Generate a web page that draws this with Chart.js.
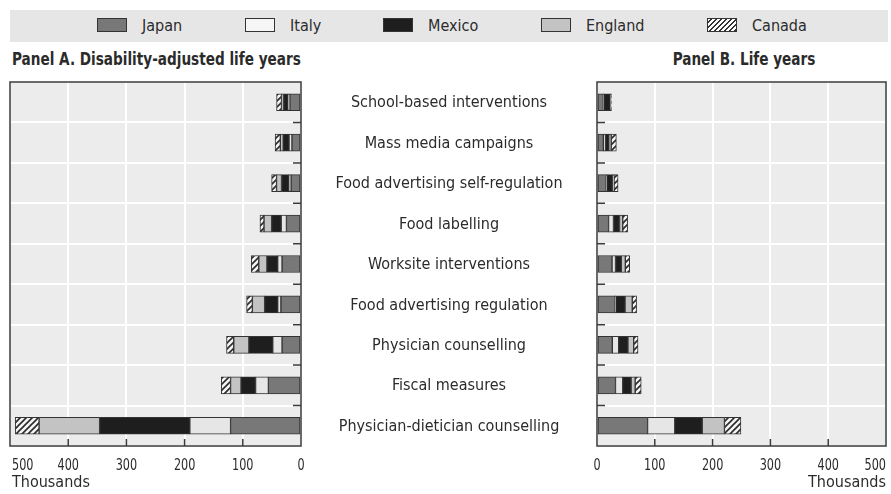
<!DOCTYPE html>
<html>
<head>
<meta charset="utf-8">
<script src="https://cdn.jsdelivr.net/npm/chart.js@4"></script>
<style>
  body { margin: 0; background: #fff; }
  #wrap { position: relative; width: 891px; height: 494px; font-family: "Liberation Sans Narrow", "DejaVu Sans Condensed", sans-serif; color: #2b2b2b; }
  canvas { position: absolute; left: 0; top: 0; }
  #legend { position: absolute; left: 10px; top: 10px; width: 878px; height: 32px; background: #e6e6e6; }
  .item { position: absolute; top: 8px; font-size: 16px; line-height: 16px; white-space: nowrap; }
  .sw { display: inline-block; width: 28px; height: 12px; border: 1.5px solid #333; vertical-align: top; margin-right: 15px; }
  .title { position: absolute; top: 49px; font-weight: bold; font-size: 17px; white-space: nowrap; transform: scaleX(0.89); }
</style>
</head>
<body>
<div id="wrap">
  <div id="legend">
    <div class="item" style="left:87px"><span class="sw" style="background:#787878"></span>Japan</div>
    <div class="item" style="left:235px"><span class="sw" style="background:#f6f6f6"></span>Italy</div>
    <div class="item" style="left:373px"><span class="sw" style="background:#1e1e1e"></span>Mexico</div>
    <div class="item" style="left:531px"><span class="sw" style="background:#c3c3c3"></span>England</div>
    <div class="item" style="left:697px"><span class="sw" style="background:repeating-linear-gradient(135deg,#fff 0 2px,#333 2px 3.5px)"></span>Canada</div>
  </div>
  <div class="title" style="left:12px; transform-origin:left center">Panel A. Disability-adjusted life years</div>
  <div class="title" style="right:76px; transform-origin:right center">Panel B. Life years</div>
  <canvas id="chartA" width="891" height="494"></canvas>
  <canvas id="chartB" width="891" height="494"></canvas>
</div>
<script>
const categories = [
  'School-based interventions',
  'Mass media campaigns',
  'Food advertising self-regulation',
  'Food labelling',
  'Worksite interventions',
  'Food advertising regulation',
  'Physician counselling',
  'Fiscal measures',
  'Physician-dietician counselling'
];
const countries = ['Japan', 'Italy', 'Mexico', 'England', 'Canada'];
const axisTicks = [0, 100, 200, 300, 400, 500];

// Panel A: disability-adjusted life years (thousands)
const dalyJapan   = [19, 15.5, 17, 25, 32.5, 34.5, 32.5, 56, 121];
const dalyItaly   = [3.5, 5, 4, 9, 7.5, 5.5, 16, 22, 70];
const dalyMexico  = [7, 10, 12.5, 16.5, 18.5, 22.5, 41, 25, 155];
const dalyEngland = [4, 5, 8.5, 13, 14, 21, 26, 18, 104];
const dalyCanada  = [8.5, 9, 8.5, 7, 13, 10, 12.5, 16, 41];

// Panel B: life years (thousands)
const lyJapan   = [11, 11, 16, 20, 26, 31.5, 26.5, 32, 87.5];
const lyItaly   = [1, 3.5, 1, 8.5, 6, 1, 11, 12.5, 47];
const lyMexico  = [11, 6, 10, 10.5, 10, 16, 16, 14.5, 47.5];
const lyEngland = [1, 4, 2.5, 5.5, 7, 12.5, 10, 7, 38.5];
const lyCanada  = [1, 9, 7, 8.5, 7.5, 7.5, 7.5, 10.5, 28.5];

const FONT = '"Liberation Sans Narrow", "DejaVu Sans Condensed", sans-serif';
const TEXT = '#2b2b2b';

function hatchPattern() {
  const c = document.createElement('canvas');
  c.width = 6; c.height = 6;
  const g = c.getContext('2d');
  g.fillStyle = '#f4f4f4';
  g.fillRect(0, 0, 6, 6);
  g.strokeStyle = '#2a2a2a';
  g.lineWidth = 1.6;
  g.beginPath();
  g.moveTo(-1, 7); g.lineTo(7, -1);
  g.moveTo(-4, 4); g.lineTo(4, -4);
  g.moveTo(2, 10); g.lineTo(10, 2);
  g.stroke();
  return g.createPattern(c, 'repeat');
}

const fills = ['#787878', '#e6e6e6', '#1e1e1e', '#c3c3c3', hatchPattern()];

// narrow digits like the printed figure
function narrowText(ctx, s, x, y, align) {
  const k = 0.78;
  ctx.save();
  ctx.translate(x, y);
  ctx.scale(k, 1);
  ctx.textAlign = align;
  ctx.fillText(s, 0, 0);
  ctx.restore();
}

// background, frame, inner ticks and all axis texts
const deco = {
  id: 'deco',
  beforeDraw(chart) {
    const { ctx, chartArea: a } = chart;
    ctx.save();
    ctx.fillStyle = '#ececec';
    ctx.fillRect(a.left, a.top, a.width, a.height);
    ctx.restore();
  },
  afterDraw(chart, args, opts) {
    const { ctx, chartArea: a, scales: { x, y } } = chart;
    ctx.save();
    ctx.strokeStyle = '#3a3a3a';
    ctx.lineWidth = 1.5;
    ctx.strokeRect(a.left, a.top, a.width, a.height);

    // category boundary ticks on the inner side
    const edge = opts.side === 'right' ? a.right : a.left;
    const dir = opts.side === 'right' ? -1 : 1;
    ctx.beginPath();
    for (let i = 1; i < categories.length; i++) {
      const yb = (y.getPixelForValue(i - 1) + y.getPixelForValue(i)) / 2;
      ctx.moveTo(edge, yb);
      ctx.lineTo(edge + dir * 8, yb);
    }
    // value ticks pointing up into the plot
    axisTicks.slice(1, -1).forEach(v => {
      const px = x.getPixelForValue(v);
      ctx.moveTo(px, a.bottom);
      ctx.lineTo(px, a.bottom - 7);
    });
    ctx.stroke();

    ctx.fillStyle = TEXT;
    ctx.font = '16px ' + FONT;
    ctx.textBaseline = 'middle';
    axisTicks.forEach(v => {
      if (v === 500) {
        if (opts.side === 'right') narrowText(ctx, String(v), a.left + 2, a.bottom + 20, 'left');
        else narrowText(ctx, String(v), a.right, a.bottom + 20, 'right');
      } else {
        narrowText(ctx, String(v), x.getPixelForValue(v), a.bottom + 20, 'center');
      }
    });
    ctx.textAlign = opts.side === 'right' ? 'left' : 'right';
    ctx.fillText('Thousands', opts.side === 'right' ? a.left + 2 : a.right, a.bottom + 37);

    if (opts.labels) {
      ctx.textAlign = 'center';
      ctx.font = '16px ' + FONT;
      categories.forEach((c, i) => ctx.fillText(c, 449, y.getPixelForValue(i) + 1));
    }
    ctx.restore();
  }
};

function makeChart(id, series, reverse, padding, side, labels) {
  return new Chart(document.getElementById(id), {
    type: 'bar',
    data: {
      labels: categories,
      datasets: series.map((d, i) => ({
        label: countries[i],
        data: d,
        backgroundColor: fills[i],
        borderColor: '#333',
        borderWidth: 1,
        borderSkipped: false,
        barThickness: 17
      }))
    },
    options: {
      indexAxis: 'y',
      responsive: false,
      animation: false,
      layout: { padding },
      scales: {
        x: {
          type: 'linear', min: 0, max: 500, reverse, stacked: true,
          ticks: { display: false, stepSize: 100 },
          grid: { color: '#ffffff', lineWidth: 2, drawTicks: false },
          border: { display: false }
        },
        y: {
          stacked: true,
          ticks: { display: false },
          grid: { color: '#ffffff', lineWidth: 2, drawTicks: false, offset: true },
          border: { display: false }
        }
      },
      plugins: {
        legend: { display: false },
        tooltip: { enabled: false },
        deco: { side, labels }
      }
    },
    plugins: [deco]
  });
}

makeChart('chartA', [dalyJapan, dalyItaly, dalyMexico, dalyEngland, dalyCanada], true,
  { left: 10, right: 590, top: 82, bottom: 48 }, 'right', true);
makeChart('chartB', [lyJapan, lyItaly, lyMexico, lyEngland, lyCanada], false,
  { left: 597, right: 5, top: 82, bottom: 48 }, 'left', false);
</script>
</body>
</html>
